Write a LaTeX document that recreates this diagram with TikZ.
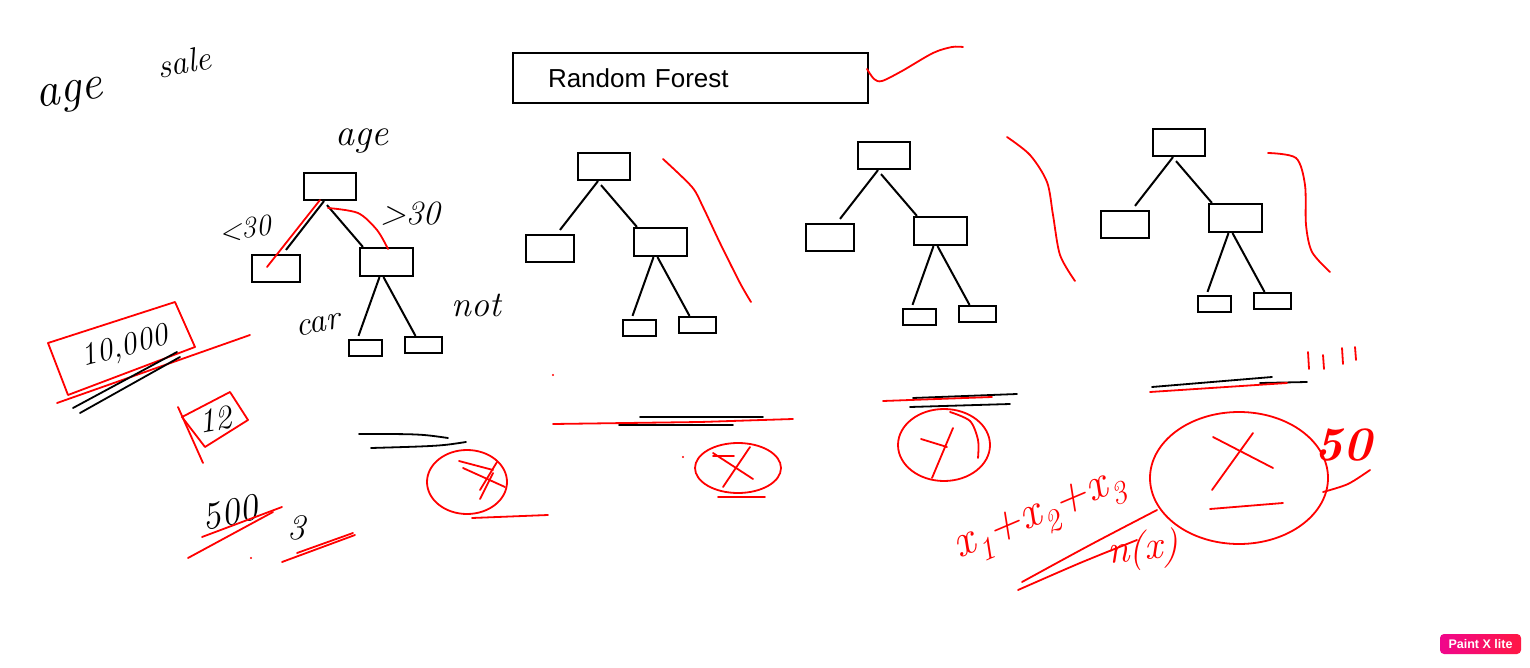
\documentclass[tikz,border=0pt]{standalone}
\usepackage{fontspec}
\usepackage{tikz}
\usetikzlibrary{positioning,calc}
\setsansfont{Liberation Sans}
\definecolor{ink}{HTML}{000000}
\definecolor{penred}{HTML}{FF0000}
\definecolor{badgepink}{HTML}{F0068C}
\definecolor{badgered}{HTML}{FF1744}
\tikzset{
  treebox/.style={draw=ink,line width=2.2pt,inner sep=0pt},
  titlebox/.style={draw=ink,line width=1.6pt,inner sep=0pt,
                   minimum width=355pt,minimum height=50pt,
                   text width=285pt,align=left,
                   font=\sffamily\fontsize{26}{30}\selectfont},
  branch/.style={draw=ink,line width=2pt},
  blackpen/.style={draw=ink,line width=1.8pt,line cap=round,line join=round},
  redpen/.style={draw=penred,line width=1.8pt,line cap=round,line join=round},
  scrawl/.style={inner sep=0pt,text=ink,font=\itshape\fontsize{#1}{#1}\selectfont},
  redscrawl/.style={inner sep=0pt,text=penred,font=\itshape\fontsize{#1}{#1}\selectfont},
  badge/.style={left color=badgepink,right color=badgered,rounded corners=4pt,
                minimum width=81pt,minimum height=20pt,inner sep=0pt,text=white,
                font=\sffamily\bfseries\fontsize{12.5}{12.5}\selectfont}
}

\begin{document}
\begin{tikzpicture}[x=1pt,y=-1pt]
  \path[use as bounding box,fill=white] (0,0) rectangle (1530,668);

  % title
  \node[titlebox] (title) at (690.5,78) {Random Forest};
  \draw[redpen] plot[smooth] coordinates {(867,69) (874,79) (882,81) (902,71) (933,53) (952,47) (963,47)};

  % the four trees
  \foreach \t/\dx/\dy in {a/-274/20,b/0/0,c/280/-11,d/575/-24}{
    \begin{scope}[shift={(\dx,\dy)}]
      \node[treebox,minimum width=52pt,minimum height=27pt] (root\t) at (604,166.5) {};
      \node[treebox,minimum width=48pt,minimum height=27pt] (left\t) at (550,248.5) {};
      \node[treebox,minimum width=53pt,minimum height=28pt] (right\t) at (660.5,242) {};
      \node[treebox,minimum width=33pt,minimum height=16pt] (leafa\t) at (639.5,328) {};
      \node[treebox,minimum width=37pt,minimum height=16pt] (leafb\t) at (697.5,325) {};
      \draw[branch] ([xshift=-6pt]root\t.south) -- ([xshift=10pt,yshift=4pt]left\t.north);
      \draw[branch] ([xshift=-3pt,yshift=-4pt]root\t.south) -- ([xshift=4pt]right\t.north west);
      \draw[branch] ([xshift=-7pt]right\t.south) -- ([xshift=-7pt,yshift=3pt]leafa\t.north);
      \draw[branch] ([xshift=-3pt]right\t.south) -- ([xshift=-8pt]leafb\t.north);
    \end{scope}
  }

  % notes on the first tree
  \node[scrawl=48,rotate=8] (agea) at (70,97) {age};
  \node[scrawl=34,rotate=10] (sale) at (184,62) {sale};
  \node[scrawl=38] (ageb) at (362,141) {age};
  \node[scrawl=30,rotate=8] (less) at (245,229) {\textless30};
  \node[scrawl=34] (more) at (410,214) {\textgreater30};
  \node[scrawl=34,rotate=10] (car) at (318,325) {car};
  \node[scrawl=36] (nocar) at (476,305) {not};
  \draw[redpen] (320,200) -- (267,267);
  \draw[redpen] plot[smooth] coordinates {(328,208) (358,213) (377,230) (388,249)};

  % counts on the left
  \node[scrawl=32,rotate=15] (rows) at (125,348) {10,000};
  \draw[redpen] (48,343) -- (175,302) -- (195,347) -- (68,395) -- cycle;
  \draw[redpen] (57,403) -- (250,335);
  \draw[blackpen] (73,408) -- (177,352);
  \draw[blackpen] (80,413) -- (180,357);
  \node[scrawl=34,rotate=10] (cols) at (215,420) {12};
  \draw[redpen] (182,417) -- (230,392) -- (248,420) -- (205,447) -- cycle;
  \draw[redpen] (178,407) -- (203,463);
  \node[scrawl=38,rotate=12] (trees) at (230,513) {500};
  \node[scrawl=36] (feat) at (296,528) {3};
  \draw[redpen] (202,537) -- (282,507);
  \draw[redpen] (188,558) -- (273,512);
  \draw[redpen] (297,553) -- (353,533);
  \draw[redpen] (282,562) -- (355,535);
  \fill[penred] (251,558) circle (1.2pt);

  % outputs under the trees
  \draw[blackpen] (359,434) .. controls (420,434) .. (448,438);
  \draw[blackpen] (371,448) .. controls (440,446) .. (466,442);
  \draw[redpen] (467,482) ellipse [x radius=40pt,y radius=32pt];
  \draw[redpen] (459,461) -- (493,470);
  \draw[redpen] (463,468) -- (505,487);
  \draw[redpen] (497,462) -- (480,490);
  \draw[redpen] (493,473) -- (480,499);
  \draw[redpen] (472,518) -- (548,515);

  \draw[blackpen] (640,417) -- (763,417);
  \draw[blackpen] (619,425) -- (733,425);
  \draw[redpen] (553,424) -- (700,422) -- (793,419);
  \fill[penred] (553,375) circle (1.2pt);
  \fill[penred] (683,457) circle (1.2pt);
  \draw[redpen] (738,468) ellipse [x radius=43pt,y radius=25pt];
  \draw[redpen] (713,453) -- (753,479);
  \draw[redpen] (750,447) -- (723,487);
  \draw[redpen] (713,456) -- (734,456);
  \draw[redpen] (718,497) -- (765,497);

  \draw[blackpen] (913,398) -- (1017,394);
  \draw[blackpen] (910,407) -- (1010,404);
  \draw[redpen] (883,401) -- (992,397);
  \draw[redpen] (944,445) ellipse [x radius=46pt,y radius=36pt];
  \draw[redpen] plot[smooth] coordinates {(950,412) (970,421) (978,440) (978,458)};
  \draw[redpen] (921,439) -- (947,447);
  \draw[redpen] (953,428) -- (932,478);

  \draw[blackpen] (1152,387) -- (1272,377);
  \draw[blackpen] (1260,383) -- (1307,382);
  \draw[redpen] (1150,392) -- (1287,383);
  \foreach \x/\top/\bot in {1308/352/369,1323/355/369,1342/348/364,1355/347/360}
    \draw[redpen] (\x,\top) -- (\x+1,\bot);
  \draw[redpen] (1239,478) ellipse [x radius=89pt,y radius=66pt];
  \draw[redpen] (1213,437) -- (1273,468);
  \draw[redpen] (1253,433) -- (1212,490);
  \draw[redpen] (1210,509) -- (1283,503);
  \node[redscrawl=48] (fifty) at (1343,445) {\bfseries 50};
  \draw[redpen] plot[smooth] coordinates {(1323,492) (1348,484) (1370,470)};

  % averaging
  \node[redscrawl=46,rotate=23] (sumx) at (1040,518)
    {x\textsubscript{1}+x\textsubscript{2}+x\textsubscript{3}};
  \draw[redpen] plot[smooth] coordinates {(1022,582) (1090,545) (1157,510)};
  \draw[redpen] plot[smooth] coordinates {(1018,590) (1080,563) (1137,540)};
  \node[redscrawl=40,rotate=5] (nx) at (1143,550) {n(x)};

  % red curves beside the trees
  \draw[redpen] plot[smooth] coordinates {(663,159) (692,187) (703,207) (720,243) (740,283) (751,302)};
  \draw[redpen] plot[smooth] coordinates {(1007,137) (1030,155) (1047,182) (1053,215) (1060,255) (1075,281)};
  \draw[redpen] plot[smooth] coordinates {(1268,153) (1296,158) (1305,185) (1306,225) (1312,252) (1330,272)};

  \node[badge] (paintx) at (1480.5,644) {Paint X lite};
\end{tikzpicture}
\end{document}
